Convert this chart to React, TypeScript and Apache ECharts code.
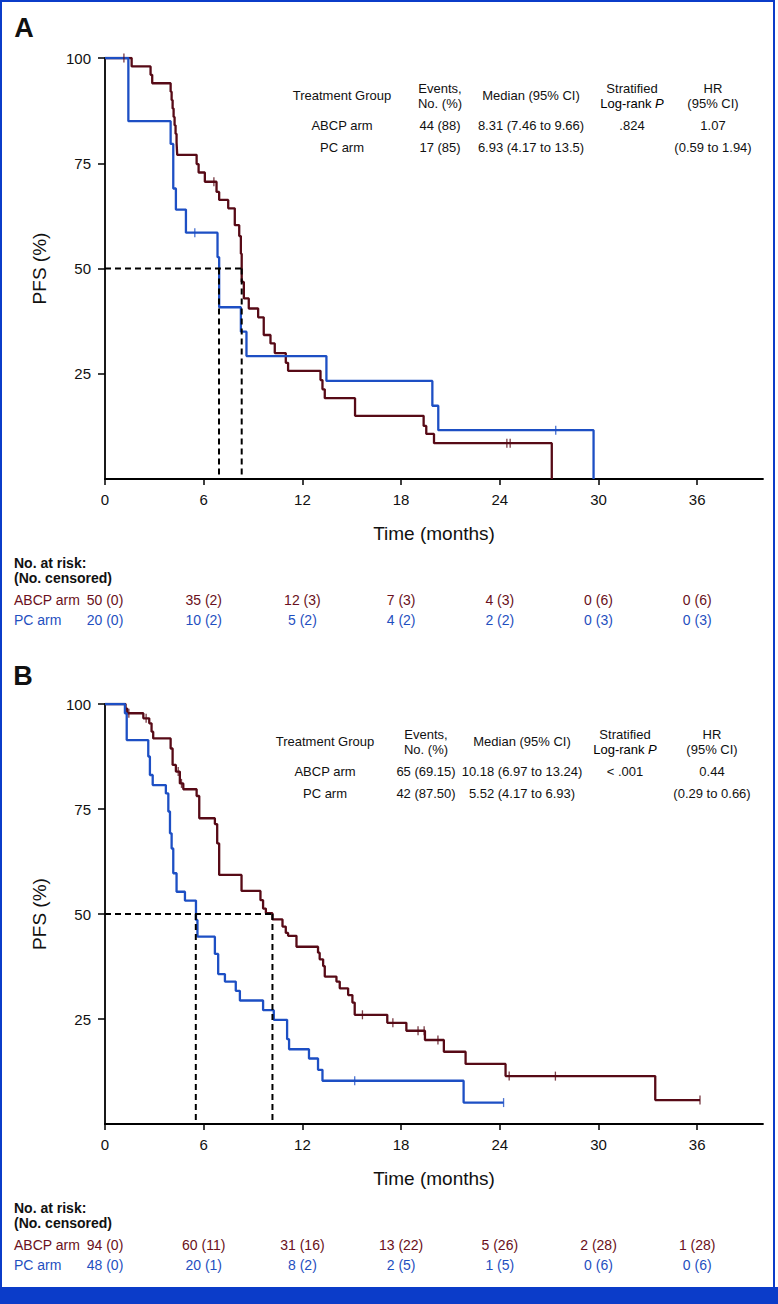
import React, { useEffect, useRef } from 'react';
import * as echarts from 'echarts';

// ---------- data ----------
const xTicks = [0, 6, 12, 18, 24, 30, 36];

// Panel A
const aAbcpT = [0, 1.62, 2.77, 2.87, 3.99, 4.05, 4.11, 4.17, 4.23, 4.29, 4.35, 4.39, 5.57, 5.69, 6.07, 6.78, 6.94, 7.49, 7.89, 8.16, 8.26, 8.31, 8.44, 8.74, 9.31, 9.65, 10.06, 10.32, 10.99, 11.13, 13.1, 13.22, 13.36, 15.2, 19.37, 19.53, 20.0, 27.16];
const aAbcpS = [100, 98, 96, 94, 92, 90, 88, 86, 84, 82, 80, 77, 74.8, 72.8, 70.6, 68.2, 66.3, 64.3, 60.3, 57.7, 53.5, 46.8, 42.9, 40.5, 38.4, 34.2, 32.2, 29.9, 27.6, 25.7, 23.5, 21.3, 19.2, 15.0, 12.6, 10.7, 8.5, 0];
const aAbcpCensT = [1.15, 6.62, 24.43, 24.63];
const aAbcpCensS = [100, 70.6, 8.5, 8.5];

const aPcT = [0, 1.42, 3.99, 4.15, 4.31, 4.92, 6.84, 6.94, 8.26, 8.6, 13.46, 19.9, 20.26, 29.7];
const aPcS = [100, 85, 79.6, 69.0, 64.0, 58.5, 52.7, 40.8, 35.0, 29.2, 23.3, 17.4, 11.6, 0];
const aPcCensT = [5.46, 27.4];
const aPcCensS = [58.5, 11.6];

const aMedianAbcp = 8.31;
const aMedianPc = 6.93;

// Panel B
const bAbcpT = [0, 1.25, 1.35, 2.33, 2.69, 2.83, 2.93, 3.99, 4.11, 4.31, 4.55, 4.76, 5.57, 5.73, 6.68, 6.82, 6.94, 8.3, 9.45, 9.61, 9.78, 10.18, 10.79, 10.99, 11.13, 11.64, 12.95, 13.05, 13.26, 13.36, 14.07, 14.27, 14.78, 15.04, 15.18, 17.16, 18.32, 19.45, 20.6, 21.92, 24.35, 33.45, 36.17];
const bAbcpS = [100, 98.9, 97.8, 96.6, 95.4, 93.4, 91.8, 89.4, 85.5, 83.9, 81.1, 79.7, 78.1, 72.8, 71.4, 66.8, 59.3, 55.5, 53.3, 51.3, 50.2, 48.7, 47.0, 45.5, 44.8, 42.2, 40.8, 39.2, 37.6, 35.1, 33.9, 32.3, 30.7, 28.9, 26.0, 24.1, 22.2, 20.0, 17.2, 14.3, 11.4, 5.7, 5.7];
const bAbcpCensT = [1.45, 2.5, 4.45, 4.65, 15.65, 17.5, 19.03, 19.4, 20.24, 24.57, 27.38, 36.17];
const bAbcpCensS = [97.8, 96.6, 83.9, 81.1, 26.0, 24.1, 22.2, 22.2, 20.0, 11.4, 11.4, 5.7];

const bPcT = [0, 1.21, 1.32, 2.63, 2.73, 2.9, 3.7, 3.85, 3.95, 4.05, 4.15, 4.35, 4.86, 5.53, 5.62, 6.68, 6.88, 7.29, 7.95, 8.2, 9.61, 10.26, 11.07, 11.19, 12.4, 12.95, 13.22, 21.8, 24.23];
const bPcS = [100, 97.8, 91.4, 87.5, 83.1, 80.7, 78.7, 74.4, 69.2, 65.6, 59.7, 55.3, 53.2, 48.6, 44.6, 40.5, 35.7, 33.9, 31.7, 29.4, 27.1, 24.8, 20.2, 17.8, 15.6, 12.9, 10.3, 5.1, 5.1];
const bPcCensT = [15.18, 24.23];
const bPcCensS = [10.3, 5.1];

const bMedianAbcp = 10.18;
const bMedianPc = 5.52;

// Risk tables
const riskAAbcp = ['50 (0)', '35 (2)', '12 (3)', '7 (3)', '4 (3)', '0 (6)', '0 (6)'];
const riskAPc = ['20 (0)', '10 (2)', '5 (2)', '4 (2)', '2 (2)', '0 (3)', '0 (3)'];
const riskBAbcp = ['94 (0)', '60 (11)', '31 (16)', '13 (22)', '5 (26)', '2 (28)', '1 (28)'];
const riskBPc = ['48 (0)', '20 (1)', '8 (2)', '2 (5)', '1 (5)', '0 (6)', '0 (6)'];

// Summary tables
const tableARows = [
  ['ABCP arm', '44 (88)', '8.31 (7.46 to 9.66)', '.824', '1.07'],
  ['PC arm', '17 (85)', '6.93 (4.17 to 13.5)', '', '(0.59 to 1.94)'],
];
const tableBRows = [
  ['ABCP arm', '65 (69.15)', '10.18 (6.97 to 13.24)', '< .001', '0.44'],
  ['PC arm', '42 (87.50)', '5.52 (4.17 to 6.93)', '', '(0.29 to 0.66)'],
];

// ---------- styling ----------
const MAROON = '#570a16';
const BLUE = '#1d4fc4';
const MAROON_T = '#6a1020';
const BLUE_T = '#1f4fc0';
const FRAME = '#0b3cc9';
const FF = '"Liberation Sans", Arial, Helvetica, sans-serif';

const zip = (t: number[], s: number[]) => t.map((v, i) => [v, s[i]]);

function panelSeries(gi: number, abT: number[], abS: number[], abCT: number[], abCS: number[], pcT: number[], pcS: number[], pcCT: number[], pcCS: number[], medAb: number, medPc: number) {
  const base = { xAxisIndex: gi, yAxisIndex: gi };
  const dash = { color: '#000', width: 2, type: [6, 4] as any };
  return [
    { ...base, type: 'line', step: 'end', data: zip(abT, abS), symbol: 'none', lineStyle: { color: MAROON, width: 2.3 }, z: 3 },
    { ...base, type: 'line', step: 'end', data: zip(pcT, pcS), symbol: 'none', lineStyle: { color: BLUE, width: 2.3 }, z: 3 },
    { ...base, type: 'scatter', data: zip(abCT, abCS), symbol: 'rect', symbolSize: [1.3, 9], itemStyle: { color: MAROON }, z: 4 },
    { ...base, type: 'scatter', data: zip(pcCT, pcCS), symbol: 'rect', symbolSize: [1.3, 9], itemStyle: { color: BLUE }, z: 4 },
    { ...base, type: 'line', data: [[0, 50], [Math.max(medAb, medPc), 50]], symbol: 'none', lineStyle: dash, z: 5 },
    { ...base, type: 'line', data: [[medAb, 50], [medAb, 0]], symbol: 'none', lineStyle: dash, z: 5 },
    { ...base, type: 'line', data: [[medPc, 50], [medPc, 0]], symbol: 'none', lineStyle: dash, z: 5 },
  ];
}

function axisPair(gi: number) {
  const line = { show: true, lineStyle: { color: '#000', width: 1.8 } };
  return {
    x: {
      type: 'value', gridIndex: gi, min: 0, max: 40, interval: 6,
      axisLine: line,
      axisTick: { show: true, length: 6, lineStyle: { color: '#000', width: 1.5 }, customValues: xTicks },
      axisLabel: { color: '#111', fontSize: 15, fontFamily: FF, margin: 13, customValues: xTicks },
      splitLine: { show: false },
      name: 'Time (months)', nameLocation: 'middle', nameGap: 45,
      nameTextStyle: { fontSize: 19, fontFamily: FF, color: '#111' },
    },
    y: {
      type: 'value', gridIndex: gi, min: 0, max: 100, interval: 25,
      axisLine: line,
      axisTick: { show: true, length: 7, lineStyle: { color: '#000', width: 1.5 }, customValues: [25, 50, 75, 100] },
      axisLabel: { color: '#111', fontSize: 15, fontFamily: FF, margin: 14, customValues: [25, 50, 75, 100] },
      splitLine: { show: false },
      name: 'PFS (%)', nameLocation: 'middle', nameGap: 56,
      nameTextStyle: { fontSize: 19, fontFamily: FF, color: '#111' },
    },
  };
}

function txt(text: string, x: number, y: number, opts: any = {}) {
  return {
    type: 'text', x, y, silent: true,
    style: {
      text, fill: opts.fill || '#111',
      font: `${opts.weight || 'normal'} ${opts.size || 13}px ${opts.family || FF}`,
      textAlign: opts.align || 'center', textVerticalAlign: 'middle',
      align: opts.align || 'center', verticalAlign: 'middle',
    },
  };
}

function summaryTable(rows: string[][], cols: number[], yTop: number) {
  const els: any[] = [];
  const y1 = yTop, y2 = yTop + 15, yMid = yTop + 7;
  els.push(txt('Treatment Group', cols[0], yMid));
  els.push(txt('Events,', cols[1], y1));
  els.push(txt('No. (%)', cols[1], y2));
  els.push(txt('Median (95% CI)', cols[2], yMid));
  els.push(txt('Stratified', cols[3], y1));
  els.push({
    type: 'text', x: cols[3], y: y2, silent: true,
    style: {
      text: '{n|Log-rank }{i|P}', textAlign: 'center', textVerticalAlign: 'middle', align: 'center', verticalAlign: 'middle',
      rich: { n: { fontSize: 13, fontFamily: FF, color: '#111' }, i: { fontSize: 13, fontFamily: FF, fontStyle: 'italic', color: '#111' } },
    },
  });
  els.push(txt('HR', cols[4], y1));
  els.push(txt('(95% CI)', cols[4], y2));
  rows.forEach((r, ri) => {
    const y = yTop + 37 + ri * 22;
    r.forEach((c, ci) => { if (c) els.push(txt(c, cols[ci], y)); });
  });
  return els;
}

export default function App() {
  const ref = useRef<HTMLDivElement>(null);
  useEffect(() => {
    document.body.style.margin = '0';
    const chart = echarts.init(ref.current!, null, { renderer: 'svg' });
    const ax0 = axisPair(0);
    const ax1 = axisPair(1);
    chart.setOption({
      animation: false,
      backgroundColor: '#fff',
      grid: [
        { left: 105, top: 58, width: 658, height: 421 },
        { left: 105, top: 704, width: 658, height: 420 },
      ],
      xAxis: [ax0.x, ax1.x],
      yAxis: [ax0.y, ax1.y],
      series: [
        ...panelSeries(0, aAbcpT, aAbcpS, aAbcpCensT, aAbcpCensS, aPcT, aPcS, aPcCensT, aPcCensS, aMedianAbcp, aMedianPc),
        ...panelSeries(1, bAbcpT, bAbcpS, bAbcpCensT, bAbcpCensS, bPcT, bPcS, bPcCensT, bPcCensS, bMedianAbcp, bMedianPc),
      ],
    });

    const g: any[] = [];
    g.push({ type: 'rect', shape: { x: 1, y: 1, width: 773, height: 1290 }, style: { fill: 'none', stroke: FRAME, lineWidth: 2 }, silent: true });
    g.push({ type: 'rect', shape: { x: 0, y: 1287, width: 778, height: 17 }, style: { fill: FRAME }, silent: true });
    g.push(txt('A', 24, 28, { size: 27, weight: 'bold' }));
    g.push(txt('B', 23, 676, { size: 27, weight: 'bold' }));
    g.push(...summaryTable(tableARows, [342, 440, 531, 632, 713], 88));
    g.push(...summaryTable(tableBRows, [325, 426, 522, 625, 712], 734));
    const risk = (gi: number, top: number, ab: string[], pc: string[]) => {
      g.push(txt('No. at risk:', 14, top, { align: 'left', weight: 'bold', size: 14 }));
      g.push(txt('(No. censored)', 14, top + 15, { align: 'left', weight: 'bold', size: 14 }));
      g.push(txt('ABCP arm', 14, top + 37, { align: 'left', size: 14, fill: MAROON_T }));
      g.push(txt('PC arm', 14, top + 57, { align: 'left', size: 14, fill: BLUE_T }));
      xTicks.forEach((t, i) => {
        const px = chart.convertToPixel({ xAxisIndex: gi }, t) as number;
        g.push(txt(ab[i], px, top + 37, { size: 14, fill: MAROON_T }));
        g.push(txt(pc[i], px, top + 57, { size: 14, fill: BLUE_T }));
      });
    };
    risk(0, 563, riskAAbcp, riskAPc);
    risk(1, 1208, riskBAbcp, riskBPc);
    chart.setOption({ graphic: g });
    return () => chart.dispose();
  }, []);
  return <div ref={ref} style={{ width: 778, height: 1304 }} />;
}
